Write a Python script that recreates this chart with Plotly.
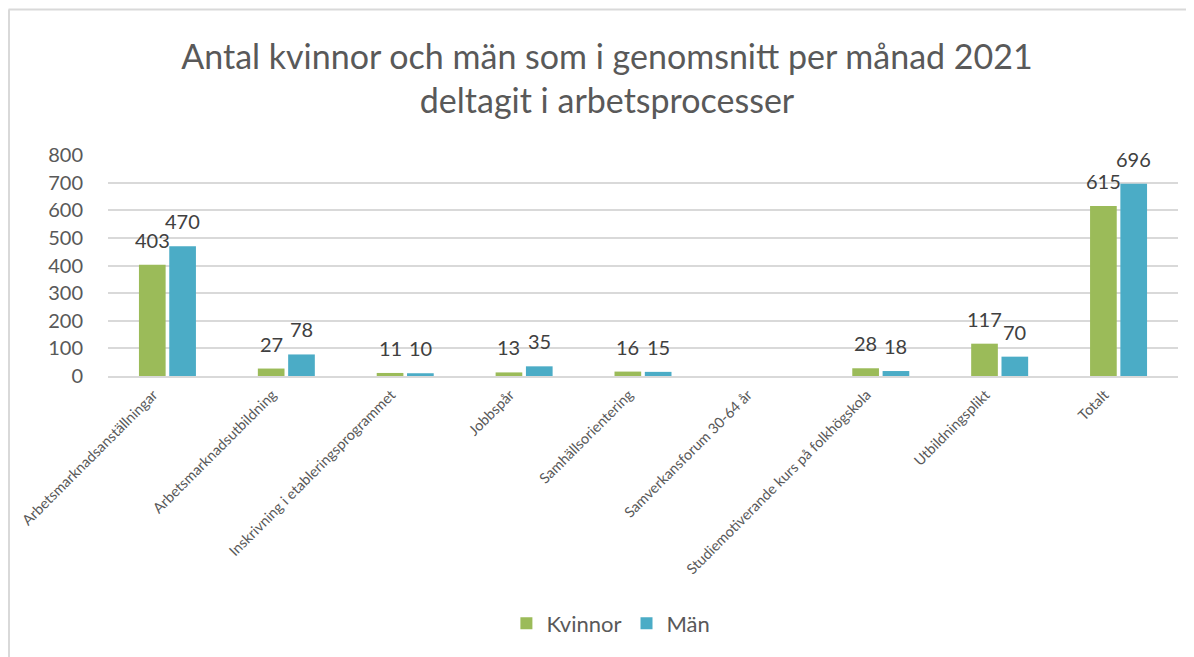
import plotly.graph_objects as go

categories = [
    "Arbetsmarknadsanställningar",
    "Arbetsmarknadsutbildning",
    "Inskrivning i etableringsprogrammet",
    "Jobbspår",
    "Samhällsorientering",
    "Samverkansforum 30-64 år",
    "Studiemotiverande kurs på folkhögskola",
    "Utbildningsplikt",
    "Totalt",
]
kvinnor = [403, 27, 11, 13, 16, None, 28, 117, 615]
man = [470, 78, 10, 35, 15, None, 18, 70, 696]
y_ticks = [0, 100, 200, 300, 400, 500, 600, 700, 800]

FONT = "Lato, 'Open Sans', sans-serif"

# layout geometry (figure px; page body adds an 8px offset)
ML, MT, PW, PH = 100, 147, 1070, 221
W, H = 1186, 649
BARGAP, GROUPGAP = 0.49, 0.12

fig = go.Figure()
series = [("Kvinnor", kvinnor, "#9BBB59"), ("Män", man, "#4BACC6")]
for name, vals, color in series:
    fig.add_trace(go.Bar(
        x=categories, y=vals, name=name,
        marker=dict(color=color, line=dict(width=0)),
        cliponaxis=False,
    ))

# data labels as annotations (offset to each bar's centre)
cat_w = PW / len(categories)
slot = cat_w * (1 - BARGAP) / len(series)
annotations = []
for i, (name, vals, color) in enumerate(series):
    dx = (i - (len(series) - 1) / 2) * slot
    for c, v in zip(categories, vals):
        if v is None:
            continue
        annotations.append(dict(
            x=c, y=v, xref="x", yref="y", text=str(v), showarrow=False,
            xanchor="center", yanchor="bottom", xshift=dx, yshift=11,
            font=dict(size=20, color="#404040", family=FONT),
        ))

fig.update_layout(
    width=W, height=H,
    margin=dict(l=ML, r=W - ML - PW, t=MT, b=H - MT - PH),
    paper_bgcolor="white", plot_bgcolor="white",
    barmode="group", bargap=BARGAP, bargroupgap=GROUPGAP,
    font=dict(family=FONT, color="#595959"),
    title=dict(
        text="Antal kvinnor och män som i genomsnitt per månad 2021<br>deltagit i arbetsprocesser",
        x=599 / W, xanchor="center", y=1 - 61 / H, yanchor="middle",
        font=dict(size=34, color="#595959", family=FONT),
    ),
    xaxis=dict(
        tickangle=-45, tickfont=dict(size=14.5, color="#595959"),
        showline=True, linecolor="#D9D9D9", linewidth=1.5,
        ticks="", showgrid=False, automargin=False,
        ticklabelshift=-14, ticklabelstandoff=3,
    ),
    yaxis=dict(
        range=[0, 800], tickvals=y_ticks,
        tickfont=dict(size=20, color="#595959"),
        showgrid=True, gridcolor="#D9D9D9", gridwidth=1.5,
        zeroline=False, ticks="", ticklabelstandoff=24, automargin=False,
    ),
    legend=dict(
        orientation="h", x=0.47, xanchor="center", y=-1.12, yanchor="middle",
        font=dict(size=22, color="#595959"), itemsizing="constant",
        traceorder="normal",
    ),
    annotations=annotations,
    shapes=[
        dict(type="line", xref="paper", yref="paper",
             x0=-(ML - 0.5) / PW, x1=1.2, y0=(PH + MT - 1.5) / PH, y1=(PH + MT - 1.5) / PH,
             line=dict(color="#D9D9D9", width=2)),
        dict(type="line", xref="paper", yref="paper",
             x0=-(ML - 1) / PW, x1=-(ML - 1) / PW, y0=(PH + MT - 1.5) / PH, y1=-2,
             line=dict(color="#D9D9D9", width=2)),
    ],
)

fig.write_html("out.html")
